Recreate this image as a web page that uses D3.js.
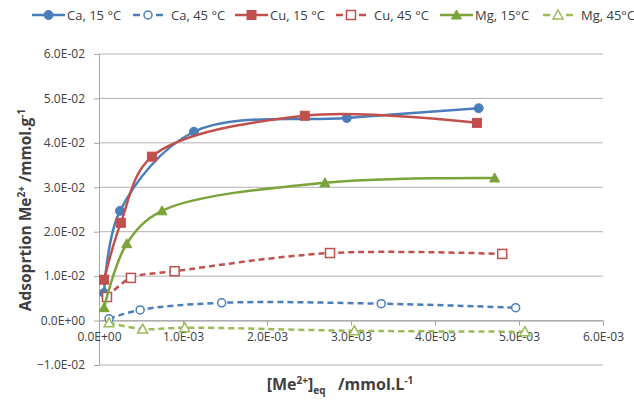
<!DOCTYPE html>
<html>
<head>
    <meta charset="utf-8">
    <title>adsorption isotherms</title>
    <script type="text/javascript" src="https://d3js.org/d3.v7.min.js"></script>
    <style>
      body { margin: 0; background: #fff; }
      text { font-family: "Open Sans", "Noto Sans", sans-serif; fill: #404040; }
    </style>
</head>
<body>
<script type="text/javascript">

    // series values, [x, y]
    var caCold = [[0.00006, 0.0062], [0.00025, 0.0247], [0.00113, 0.0425], [0.00295, 0.0456], [0.00452, 0.0478]];
    var caHot  = [[0.00012, 0.0004], [0.00049, 0.0024], [0.00146, 0.0040], [0.00336, 0.0038], [0.00496, 0.0029]];
    var cuCold = [[0.00006, 0.0092], [0.00026, 0.0220], [0.00063, 0.0369], [0.00245, 0.0461], [0.00450, 0.0445]];
    var cuHot  = [[0.000095, 0.0053], [0.00038, 0.0096], [0.00090, 0.0111], [0.00275, 0.0152], [0.00480, 0.0150]];
    var mgCold = [[0.00006, 0.0029], [0.00033, 0.0173], [0.00075, 0.0247], [0.00269, 0.0310], [0.00471, 0.0321]];
    var mgHot  = [[0.00012, -0.0005], [0.00052, -0.0019], [0.00102, -0.0016], [0.00304, -0.0023], [0.00507, -0.0025]];

    var seriesNames = ["Ca, 15 °C", "Ca, 45 °C", "Cu, 15 °C", "Cu, 45 °C", "Mg, 15°C", "Mg, 45°C"];
    var xTicks = [0, 0.001, 0.002, 0.003, 0.004, 0.005, 0.006];
    var yTicks = [-0.01, 0, 0.01, 0.02, 0.03, 0.04, 0.05, 0.06];

    var series = [
        {name: seriesNames[0], data: caCold, color: "#4a7ebb", dash: null, shape: "circle", fill: true},
        {name: seriesNames[1], data: caHot,  color: "#4a7ebb", dash: "6,4", shape: "circle", fill: false},
        {name: seriesNames[2], data: cuCold, color: "#c0504d", dash: null, shape: "square", fill: true},
        {name: seriesNames[3], data: cuHot,  color: "#c0504d", dash: "6,4", shape: "square", fill: false},
        {name: seriesNames[4], data: mgCold, color: "#7aa43a", dash: null, shape: "triangle", fill: true},
        {name: seriesNames[5], data: mgHot,  color: "#9bbb59", dash: "6,4", shape: "triangle", fill: false}
    ];

    var width = 634, height = 400;
    var svg = d3.select("body").append("svg").attr("width", width).attr("height", height);

    var x = d3.scaleLinear().domain([0, 0.006]).range([99, 603]);
    var y = d3.scaleLinear().domain([-0.01, 0.06]).range([365, 54]);

    function sci(d) {
        return d3.format(".1e")(d).replace("e", "E").replace(/E([+-])(\d)$/, "E$10$2");
    }

    // gridlines
    svg.append("g").selectAll("line")
        .data(yTicks)
        .enter()
        .append("line")
        .attr("x1", x(0)).attr("x2", x(0.006))
        .attr("y1", function(d){ return y(d) }).attr("y2", function(d){ return y(d) })
        .attr("stroke", "#b0b0b0").attr("stroke-width", 1);

    // y axis
    var yAxis = d3.axisLeft(y).tickValues(yTicks).tickSize(5).tickPadding(9).tickFormat(sci);
    var gy = svg.append("g").attr("transform", "translate(" + x(0) + ",0)").call(yAxis);
    gy.select(".domain").attr("stroke", "#a6a6a6");
    gy.selectAll(".tick line").attr("stroke", "#a6a6a6");
    gy.selectAll("text").style("font-size", "12px").attr("fill", "#404040");

    // x axis sits on y = 0
    var xAxis = d3.axisBottom(x).tickValues(xTicks).tickSize(5).tickPadding(7).tickFormat(sci);
    var gx = svg.append("g").attr("transform", "translate(0," + y(0) + ")").call(xAxis);
    gx.select(".domain").attr("stroke", "#a6a6a6");
    gx.selectAll(".tick line").attr("stroke", "#a6a6a6");
    gx.selectAll("text").style("font-size", "12px").attr("fill", "#404040");

    var line = d3.line()
        .x(function(d){ return x(d[0]) })
        .y(function(d){ return y(d[1]) })
        .curve(d3.curveCatmullRom.alpha(0.5));

    function marker(g, s, cx, cy) {
        var fill = s.fill ? s.color : "#fff";
        if (s.shape == "circle") {
            g.append("circle").attr("cx", cx).attr("cy", cy).attr("r", s.fill ? 4.5 : 4)
                .attr("fill", fill).attr("stroke", s.color).attr("stroke-width", s.fill ? 1 : 1.5);
        } else if (s.shape == "square") {
            g.append("rect").attr("x", cx - 4.5).attr("y", cy - 4.5).attr("width", 9).attr("height", 9)
                .attr("fill", fill).attr("stroke", s.color).attr("stroke-width", s.fill ? 1 : 1.5);
        } else {
            g.append("path").attr("d", "M" + cx + "," + (cy - 5) + "L" + (cx + 5) + "," + (cy + 4) + "L" + (cx - 5) + "," + (cy + 4) + "Z")
                .attr("fill", fill).attr("stroke", s.color).attr("stroke-width", s.fill ? 1 : 1.5);
        }
    }

    series.forEach(function(s){
        var g = svg.append("g");
        g.append("path")
            .attr("d", line(s.data))
            .attr("fill", "none")
            .attr("stroke", s.color)
            .attr("stroke-width", 2.5)
            .attr("stroke-dasharray", s.dash);
        s.data.forEach(function(d){
            marker(g, s, x(d[0]), y(d[1]));
        });
    });

    // legend
    var legendX = [32, 133, 235, 336, 440, 543];
    var legend = svg.append("g");
    series.forEach(function(s, i){
        var lx = legendX[i], ly = 15;
        var len = s.dash ? 30 : 33;
        var segs = s.dash ? [[lx, lx + 7], [lx + len - 7, lx + len]] : [[lx, lx + len]];
        segs.forEach(function(sg){
            legend.append("line")
                .attr("x1", sg[0]).attr("x2", sg[1]).attr("y1", ly).attr("y2", ly)
                .attr("stroke", s.color).attr("stroke-width", 2.5);
        });
        marker(legend, s, lx + len / 2, ly);
        legend.append("text")
            .attr("x", lx + len + (s.dash ? 8 : 2)).attr("y", ly + 5)
            .style("font-size", "13px")
            .text(s.name);
    });

    // axis titles
    var yt = svg.append("text")
        .attr("transform", "translate(31,210) rotate(-90)")
        .attr("text-anchor", "middle")
        .style("font-size", "15.5px").style("font-weight", "bold");
    yt.append("tspan").text("Adsoprtion Me");
    yt.append("tspan").attr("dy", -6).style("font-size", "10px").text("2+");
    yt.append("tspan").attr("dy", 6).text(" /mmol.g");
    yt.append("tspan").attr("dy", -6).style("font-size", "10px").text("-1");

    var xt = svg.append("text")
        .attr("x", 340).attr("y", 390)
        .attr("text-anchor", "middle")
        .style("font-size", "16px").style("font-weight", "bold");
    xt.append("tspan").text("[Me");
    xt.append("tspan").attr("dy", -6).style("font-size", "10px").text("2+");
    xt.append("tspan").attr("dy", 6).text("]");
    xt.append("tspan").attr("dy", 4).style("font-size", "10px").text("eq");
    xt.append("tspan").attr("dy", -4).attr("xml:space", "preserve").text("   /mmol.L");
    xt.append("tspan").attr("dy", -6).style("font-size", "10px").text("-1");

</script>
</body>
</html>
